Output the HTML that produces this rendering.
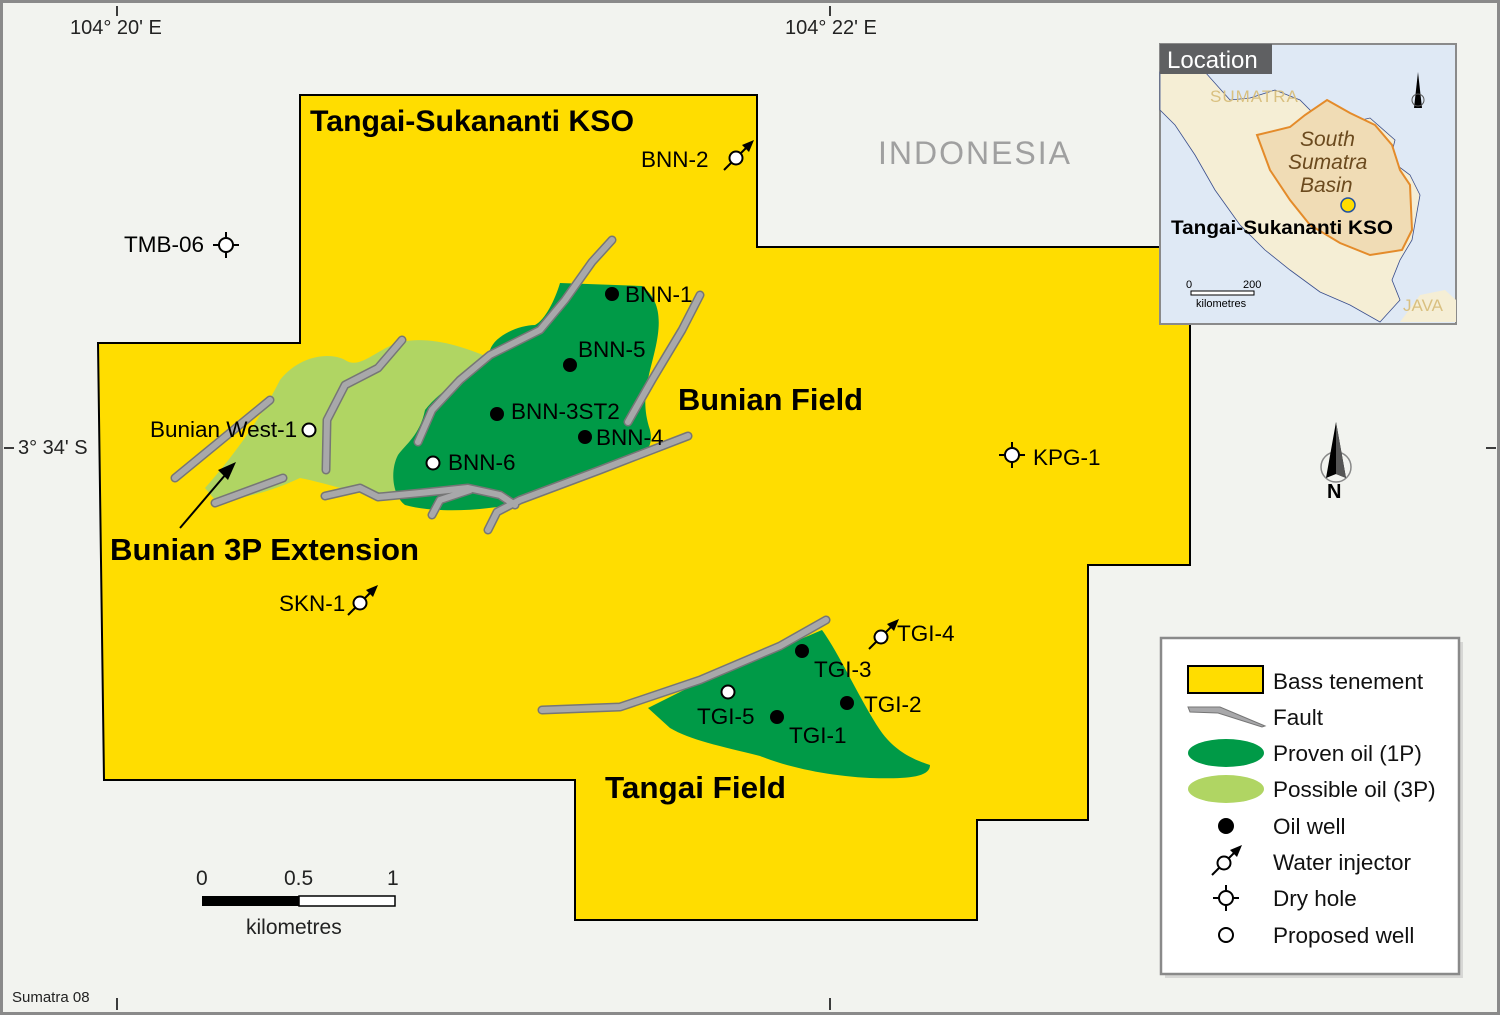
<!DOCTYPE html>
<html><head><meta charset="utf-8"><style>
html,body{margin:0;padding:0;background:#f2f3ef}
svg{display:block}
text{font-family:"Liberation Sans",Arial,sans-serif}
</style></head><body>
<svg width="1500" height="1015" viewBox="0 0 1500 1015" xmlns="http://www.w3.org/2000/svg">
<defs>
<g id="wi"><circle cx="0" cy="0" r="6.5" fill="#fff" stroke="#000" stroke-width="2"/><line x1="-12" y1="12" x2="-4.5" y2="4.5" stroke="#000" stroke-width="2"/><line x1="4.5" y1="-4.5" x2="10" y2="-10" stroke="#000" stroke-width="2"/><polygon points="18,-18 6,-13 13,-6" fill="#000"/></g>
<g id="dh"><circle cx="0" cy="0" r="7" fill="#fff" stroke="#000" stroke-width="2"/><path d="M-13 0H-7M7 0H13M0 -13V-7M0 7V13" stroke="#000" stroke-width="2"/></g>
</defs>
<rect x="1.5" y="1.5" width="1497" height="1012" fill="#f2f3ef" stroke="#8a8a8a" stroke-width="3"/>
<path d="M117 6V16M830 6V16M117 998V1010M830 998V1010M4 448H14M1486 448H1496" stroke="#000" stroke-width="1.5"/>
<text x="70" y="34" font-size="20" fill="#222">104° 20' E</text>
<text x="785" y="34" font-size="20" fill="#222">104° 22' E</text>
<text x="18" y="454" font-size="20" fill="#222">3° 34' S</text>
<text x="12" y="1002" font-size="15" fill="#222">Sumatra 08</text>
<polygon points="300,95 757,95 757,247 1190,247 1190,565 1088,565 1088,820 977,820 977,920 575,920 575,780 104,780 98,343 300,343" fill="#ffdd00" stroke="#000" stroke-width="2"/>
<path d="M205,488 C230,460 260,420 280,380 C300,355 330,352 345,360 C360,370 375,350 400,342 C430,336 460,345 495,360 L480,470 L395,495 C370,500 340,486 300,478 C270,492 240,500 215,500 Z" fill="#b0d563"/>
<path d="M560,283 L642,286 C660,300 662,320 655,350 C648,380 640,400 650,430 C655,450 640,460 620,465 L560,485 L510,505 C470,512 430,512 405,505 C392,495 390,470 398,455 C405,445 420,435 425,410 C440,390 470,375 490,350 C495,335 520,325 535,325 C545,320 555,300 560,283 Z" fill="#009a47"/>
<path d="M648,708 L700,682 L780,648 L822,630 C840,655 860,700 880,730 C895,752 915,760 930,765 C930,778 905,779 870,778 C830,776 790,768 760,756 C720,746 690,740 670,728 Z" fill="#009a47"/>
<g fill="none" stroke-linecap="round" stroke-linejoin="round">
<g stroke="#767676" stroke-width="9">
<path d="M612,240 L592,262 L565,300 L540,330 L490,355 L460,380 L432,410 L418,442"/>
<path d="M700,295 L682,330 L652,380 L628,422"/>
<path d="M688,436 L600,470 L520,500 L497,512 L488,530"/>
<path d="M325,496 L360,488 L378,497 L420,493 L468,488 L500,495 L515,505"/>
<path d="M432,515 L440,500 L470,490"/>
<path d="M270,400 L175,478"/>
<path d="M283,478 L215,503"/>
<path d="M402,340 L378,368 L345,385 L327,420 L326,470"/>
<path d="M542,710 L620,707 L700,680 L780,646 L826,620"/>
</g>
<g stroke="#a8a8aa" stroke-width="6">
<path d="M612,240 L592,262 L565,300 L540,330 L490,355 L460,380 L432,410 L418,442"/>
<path d="M700,295 L682,330 L652,380 L628,422"/>
<path d="M688,436 L600,470 L520,500 L497,512 L488,530"/>
<path d="M325,496 L360,488 L378,497 L420,493 L468,488 L500,495 L515,505"/>
<path d="M432,515 L440,500 L470,490"/>
<path d="M270,400 L175,478"/>
<path d="M283,478 L215,503"/>
<path d="M402,340 L378,368 L345,385 L327,420 L326,470"/>
<path d="M542,710 L620,707 L700,680 L780,646 L826,620"/>
</g>
</g>
<text x="310" y="131" font-size="30" font-weight="bold" textLength="324" lengthAdjust="spacingAndGlyphs">Tangai-Sukananti KSO</text>
<text x="878" y="164" font-size="32" fill="#a0a0a0" letter-spacing="3" textLength="195">INDONESIA</text>
<text x="678" y="410" font-size="31" font-weight="bold" textLength="185" lengthAdjust="spacingAndGlyphs">Bunian Field</text>
<text x="110" y="560" font-size="31" font-weight="bold" textLength="309" lengthAdjust="spacingAndGlyphs">Bunian 3P Extension</text>
<text x="605" y="798" font-size="31" font-weight="bold" textLength="181" lengthAdjust="spacingAndGlyphs">Tangai Field</text>
<line x1="180" y1="528" x2="226" y2="474" stroke="#000" stroke-width="2"/>
<polygon points="236,462 218,470 228,480" fill="#000"/>
<g font-size="22.5">
<text x="641" y="167">BNN-2</text>
<text x="124" y="252">TMB-06</text>
<text x="625" y="302">BNN-1</text>
<text x="578" y="357">BNN-5</text>
<text x="511" y="419">BNN-3ST2</text>
<text x="596" y="445">BNN-4</text>
<text x="448" y="470">BNN-6</text>
<text x="150" y="437">Bunian West-1</text>
<text x="1033" y="465">KPG-1</text>
<text x="279" y="611">SKN-1</text>
<text x="897" y="641">TGI-4</text>
<text x="814" y="677">TGI-3</text>
<text x="864" y="712">TGI-2</text>
<text x="697" y="724">TGI-5</text>
<text x="789" y="743">TGI-1</text>
</g>
<use href="#wi" x="736" y="158"/>
<use href="#dh" x="226" y="245"/>
<use href="#dh" x="1012" y="455"/>
<use href="#wi" x="360" y="603"/>
<use href="#wi" x="881" y="637"/>
<g fill="#000"><circle cx="612" cy="294" r="7"/><circle cx="570" cy="365" r="7"/><circle cx="497" cy="414" r="7"/><circle cx="585" cy="437" r="7"/><circle cx="802" cy="651" r="7"/><circle cx="847" cy="703" r="7"/><circle cx="777" cy="717" r="7"/></g>
<g fill="#fff" stroke="#000" stroke-width="2"><circle cx="309" cy="430" r="6.5"/><circle cx="433" cy="463" r="6.5"/><circle cx="728" cy="692" r="6.5"/></g>
<circle cx="1336" cy="467" r="15" fill="none" stroke="#888" stroke-width="1.5"/>
<polygon points="1336,422 1326,478 1336,474 1346,478" fill="#000"/>
<polygon points="1336,422 1336,474 1346,478" fill="#555"/>
<text x="1327" y="498" font-size="20" font-weight="bold">N</text>
<g font-size="21" fill="#222"><text x="196" y="885">0</text><text x="284" y="885">0.5</text><text x="387" y="885">1</text><text x="246" y="934">kilometres</text></g>
<rect x="202" y="896" width="97" height="10" fill="#000"/>
<rect x="299" y="896" width="96" height="10" fill="#fff" stroke="#000" stroke-width="1.5"/>
<g>
<rect x="1160" y="44" width="296" height="280" fill="#dfe9f5" stroke="#8a8a8a" stroke-width="2"/>
<path d="M1180,72 L1205,72 L1230,100 L1250,98 L1275,90 L1300,100 L1320,120 L1340,125 L1370,118 L1395,140 L1390,160 L1410,175 L1420,195 L1412,240 L1400,260 L1392,280 L1400,300 L1380,322 L1350,305 L1320,292 L1290,270 L1265,250 L1240,225 L1215,190 L1195,155 L1175,125 L1160,110 L1160,72 Z" fill="#f5eed5" stroke="#3a4e8c" stroke-width="0.8"/>
<path d="M1400,322 L1420,295 L1445,290 L1456,300 L1456,322 Z" fill="#f5eed5"/>
<path d="M1327,100 L1350,113 L1375,125 L1392,145 L1400,170 L1410,185 L1412,230 L1402,250 L1370,255 L1340,243 L1310,225 L1290,200 L1270,170 L1257,135 L1290,127 L1305,115 Z" fill="#f0dcb5" stroke="#e48b2a" stroke-width="2"/>
<rect x="1160" y="44" width="112" height="30" fill="#5f6062"/>
<text x="1167" y="68" font-size="24" fill="#fff">Location</text>
<text x="1210" y="102" font-size="17" fill="#d9c080" letter-spacing="1">SUMATRA</text>
<text x="1403" y="311" font-size="17" fill="#d9c080">JAVA</text>
<g font-size="21" font-style="italic" fill="#6b4a1e"><text x="1300" y="146">South</text><text x="1288" y="169">Sumatra</text><text x="1300" y="192">Basin</text></g>
<circle cx="1348" cy="205" r="7" fill="#ffdd00" stroke="#2050a0" stroke-width="1.5"/>
<text x="1171" y="234" font-size="19" font-weight="bold" textLength="222" lengthAdjust="spacingAndGlyphs">Tangai-Sukananti KSO</text>
<text x="1186" y="288" font-size="11">0</text><text x="1243" y="288" font-size="11">200</text>
<rect x="1191" y="291" width="63" height="4" fill="#fff" stroke="#000" stroke-width="1"/>
<text x="1196" y="307" font-size="11">kilometres</text>
<polygon points="1418,72 1414,108 1422,108" fill="#000"/>
<circle cx="1418" cy="100" r="6" fill="none" stroke="#555"/>
</g>
<rect x="1165" y="642" width="298" height="336" fill="#bbb" opacity="0.5"/>
<rect x="1161" y="638" width="298" height="336" fill="#fff" stroke="#8a8a8a" stroke-width="2.5"/>
<rect x="1188" y="666" width="75" height="27" fill="#ffdd00" stroke="#000" stroke-width="2"/>
<polygon points="1188,707 1220,707 1265,726 1262,727 1218,713 1190,712" fill="#a8a8aa" stroke="#767676"/>
<ellipse cx="1226" cy="753" rx="38" ry="14" fill="#009a47"/>
<ellipse cx="1226" cy="789" rx="38" ry="14" fill="#b0d563"/>
<circle cx="1226" cy="826" r="8" fill="#000"/>
<use href="#wi" x="1224" y="863"/>
<use href="#dh" x="1226" y="898"/>
<circle cx="1226" cy="935" r="7" fill="#fff" stroke="#000" stroke-width="2"/>
<g font-size="22.5" fill="#111">
<text x="1273" y="689">Bass tenement</text>
<text x="1273" y="725">Fault</text>
<text x="1273" y="761">Proven oil (1P)</text>
<text x="1273" y="797">Possible oil (3P)</text>
<text x="1273" y="834">Oil well</text>
<text x="1273" y="870">Water injector</text>
<text x="1273" y="906">Dry hole</text>
<text x="1273" y="943">Proposed well</text>
</g>
</svg>
</body></html>
